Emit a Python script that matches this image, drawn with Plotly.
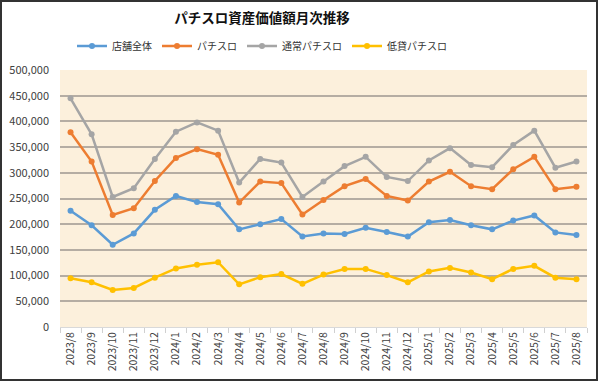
import plotly.graph_objects as go

months = ["2023/8","2023/9","2023/10","2023/11","2023/12","2024/1","2024/2","2024/3",
          "2024/4","2024/5","2024/6","2024/7","2024/8","2024/9","2024/10","2024/11",
          "2024/12","2025/1","2025/2","2025/3","2025/4","2025/5","2025/6","2025/7","2025/8"]

store_total = [226000,198000,160000,182000,228000,255000,243000,239000,190000,200000,210000,176000,
               182000,181000,193000,185000,176000,204000,208000,198000,190000,207000,217000,184000,179000]
pachislo = [379000,322000,218000,231000,284000,329000,346000,335000,242000,283000,280000,219000,
            247000,274000,288000,255000,246000,283000,302000,274000,268000,307000,331000,268000,273000]
normal_pachislo = [445000,375000,253000,270000,327000,380000,398000,382000,281000,327000,320000,253000,
                   283000,313000,331000,292000,284000,324000,348000,315000,311000,354000,382000,310000,322000]
low_pachislo = [95000,87000,72000,76000,96000,114000,121000,126000,83000,97000,103000,84000,
                102000,113000,113000,101000,87000,108000,115000,106000,93000,113000,119000,96000,93000]

series = [
    ("店舗全体", store_total, "#5B9BD5"),
    ("パチスロ", pachislo, "#ED7D31"),
    ("通常パチスロ", normal_pachislo, "#A5A5A5"),
    ("低貸パチスロ", low_pachislo, "#FFC000"),
]

fig = go.Figure()
for name, vals, color in series:
    fig.add_trace(go.Scatter(
        x=months, y=vals, name=name, mode="lines+markers",
        line=dict(color=color, width=2.5),
        marker=dict(color=color, size=6),
    ))

font_family = "Noto Sans CJK JP, Noto Sans, sans-serif"
L, R, T, B = 60, 13, 70, 56
W, H = 600, 383
pw, ph = W - L - R, H - T - B

def px_x(p):
    return (p - L) / pw

def px_y(p):
    return (H - B - p) / ph

fig.update_layout(
    width=W, height=H,
    margin=dict(l=L, r=R, t=T, b=B, autoexpand=False),
    paper_bgcolor="white",
    plot_bgcolor="#FCF0DC",
    font=dict(family=font_family, color="#404040", size=10),
    title=dict(text="<b>パチスロ資産価値額月次推移</b>", xref="container", x=262 / W, xanchor="center",
               y=1 - 18 / H, yanchor="middle",
               font=dict(size=13.5, color="#111111", family=font_family)),
    legend=dict(orientation="h", x=px_x(262), xanchor="center", y=px_y(46), yanchor="middle",
                font=dict(size=10, color="#333333"), traceorder="normal",
                entrywidth=0, tracegroupgap=0,
                bgcolor="rgba(0,0,0,0)"),
    showlegend=True,
    xaxis=dict(
        type="category", tickangle=-90, showgrid=False, zeroline=False,
        ticks="outside", tickson="boundaries", ticklen=5, tickcolor="#D0D0D0",
        showline=True, linecolor="#D9D9D9", linewidth=1, automargin=False,
        tickfont=dict(size=10.5, color="#404040"),
        range=[-0.5, len(months) - 0.5],
    ),
    yaxis=dict(
        range=[0, 500000], dtick=50000, tickformat=",d",
        showgrid=True, gridcolor="#B5ADA3", gridwidth=1.5,
        zeroline=False, showline=False, automargin=False,
        tickfont=dict(size=11, color="#404040"),
        ticklabelstandoff=10,
    ),
    shapes=[dict(type="rect", xref="paper", yref="paper",
                 x0=px_x(1), x1=px_x(597), y0=px_y(380), y1=px_y(1),
                 line=dict(color="#333333", width=2), fillcolor="rgba(0,0,0,0)", layer="below")],
)

fig.write_html("out.html", config={"displayModeBar": False},
               post_script="document.body.style.margin='0';")
